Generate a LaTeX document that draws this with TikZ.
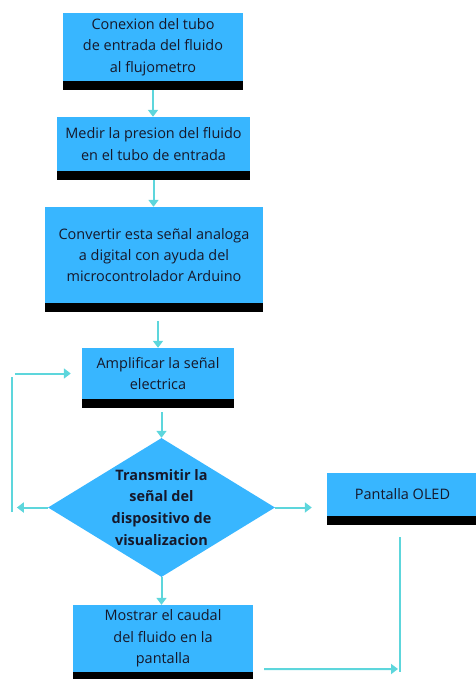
\documentclass[tikz,border=0pt]{standalone}
\usepackage{fontspec}
\setmainfont{Open Sans}
\usepackage{tikz}
\usetikzlibrary{shapes.geometric, arrows.meta}
\definecolor{azulcaja}{HTML}{38B6FF}
\definecolor{turquesa}{HTML}{5DD6DC}
\definecolor{texto}{HTML}{16182A}
\tikzstyle{caja} = [rectangle, fill=azulcaja, text=texto, align=center, inner sep=0pt, font=\fontsize{14.5}{21.5}\selectfont]
\tikzstyle{decision} = [diamond, fill=azulcaja, inner sep=0pt, minimum width=227bp, minimum height=139bp]
\tikzstyle{flecha} = [line width=2bp, draw=turquesa, -{Triangle[length=7bp,width=10bp]}]
\tikzstyle{linea} = [line width=2bp, draw=turquesa]

\begin{document}
\begin{tikzpicture}[x=1bp, y=-1bp]
\useasboundingbox (0,0) rectangle (476,679);
% cajas del proceso
\node[caja, minimum width=180bp, minimum height=68bp] (conexion) at (153,47) {Conexion del tubo\\de entrada del fluido\\al flujometro};
\node[caja, minimum width=193bp, minimum height=54bp] (medir) at (153.5,144) {Medir la presion del fluido\\en el tubo de entrada};
\node[caja, minimum width=218bp, minimum height=96bp] (convertir) at (154,255) {Convertir esta señal analoga\\a digital con ayuda del\\microcontrolador Arduino};
\node[caja, minimum width=152bp, minimum height=51bp] (amplificar) at (158,373.5) {Amplificar la señal\\electrica};
\node[decision, label={[font=\bfseries\fontsize{14.5}{22}\selectfont, align=center, text=texto]center:Transmitir la\\señal del\\dispositivo de\\visualizacion}] (dia) at (161.5,507.5) {};
\node[caja, minimum width=151bp, minimum height=43bp] (oled) at (402.5,494.5) {Pantalla OLED};
\node[caja, minimum width=180bp, minimum height=67bp] (mostrar) at (163,638.5) {Mostrar el caudal\\del fluido en la\\pantalla};
% barras negras
\foreach \n in {conexion, medir, convertir, amplificar, oled, mostrar}{
  \fill[black] (\n.south west) rectangle ([yshift=-9bp]\n.south east);
  \coordinate (\n-bot) at ([yshift=-9bp]\n.south);
}
\coordinate (retorno1) at (12,512);
\coordinate (retorno2) at (12,377);
\coordinate (oledfin) at (400,672);
% conectores
\draw[flecha] (conexion-bot) -- (conexion-bot |- medir.north);
\draw[flecha] (medir-bot) -- (medir-bot |- convertir.north);
\draw[flecha, shorten <=9bp] (amplificar.north |- convertir-bot) -- (amplificar.north);
\draw[flecha, shorten <=4bp] (dia.north |- amplificar-bot) -- (dia.north);
\draw[flecha] (dia.east) -- ([xshift=-15bp]dia.east -| oled.west);
\draw[flecha] (dia.west) -- ++(-31,0);
\draw[linea] (retorno1) -- (retorno2);
\draw[flecha] ([xshift=-67bp]amplificar.west) -- ([xshift=-11bp]amplificar.west);
\draw[flecha] (dia.south) -- (dia.south |- mostrar.north);
\draw[linea, shorten <=12bp] (oledfin |- oled-bot) -- (oledfin);
\draw[flecha, shorten <=11bp, shorten >=2bp] ([yshift=3bp]mostrar.south east) -- ([yshift=3bp]oledfin);
\end{tikzpicture}
\end{document}
